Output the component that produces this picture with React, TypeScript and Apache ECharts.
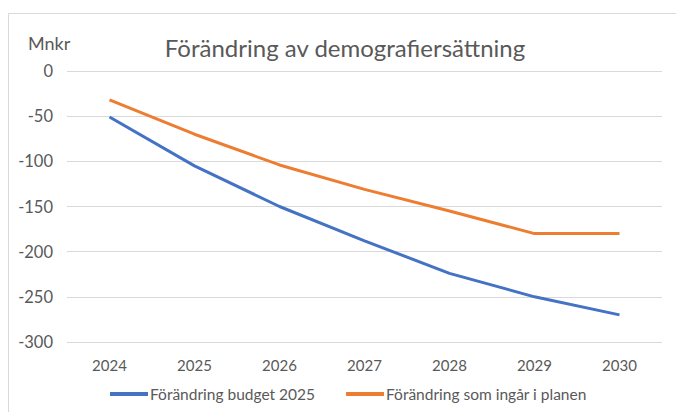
import React, { useEffect, useRef } from "react";
import * as echarts from "echarts";

const categories = ["2024", "2025", "2026", "2027", "2028", "2029", "2030"];
const budget2025 = [-51, -105, -150, -188, -224, -250, -270];
const iPlanen = [-32, -70, -104, -131, -155, -180, -180];
const seriesNames = ["Förändring budget 2025", "Förändring som ingår i planen"];
const titleText = "Förändring av demografiersättning";
const unitText = "Mnkr";

const FONT = "Lato, 'Open Sans', sans-serif";

export default function App() {
  const ref = useRef<HTMLDivElement>(null);
  useEffect(() => {
    if (!ref.current) return;
    const chart = echarts.init(ref.current, undefined, { renderer: "svg" });
    chart.setOption({
      animation: false,
      backgroundColor: "#ffffff",
      textStyle: { fontFamily: FONT },
      graphic: [
        {
          type: "rect",
          shape: { x: 8.5, y: 13.5, width: 700, height: 500 },
          style: { fill: "none", stroke: "#D9D9D9", lineWidth: 1 },
          silent: true,
        },
        {
          type: "text",
          x: 345,
          y: 47,
          style: {
            text: titleText,
            fill: "#595959",
            font: `24px ${FONT}`,
            align: "center",
            verticalAlign: "middle",
          },
        },
        {
          type: "text",
          x: 28,
          y: 43,
          style: {
            text: unitText,
            fill: "#595959",
            font: `18px ${FONT}`,
            align: "left",
            verticalAlign: "middle",
          },
        },
      ],
      grid: { left: 67, right: 14, top: 71, bottom: 70, containLabel: false },
      legend: {
        left: 105,
        top: 381,
        itemWidth: 38,
        itemHeight: 4,
        itemGap: 31,
        icon: "rect",
        textStyle: { color: "#595959", fontSize: 15.5, fontFamily: FONT, padding: [0, 0, 0, -3] },
        data: seriesNames,
      },
      xAxis: {
        type: "category",
        data: categories,
        boundaryGap: true,
        axisLine: { show: false, onZero: false },
        axisTick: { show: false },
        axisLabel: { color: "#595959", fontSize: 15, margin: 15, fontFamily: FONT },
        splitLine: { show: false },
      },
      yAxis: {
        type: "value",
        min: -300,
        max: 0,
        interval: 50,
        axisLine: { show: false },
        axisTick: { show: false },
        axisLabel: { color: "#595959", fontSize: 16.5, margin: 14, fontFamily: FONT },
        splitLine: { lineStyle: { color: "#D9D9D9", width: 1 } },
      },
      series: [
        {
          name: seriesNames[0],
          type: "line",
          data: budget2025,
          symbol: "none",
          lineStyle: { color: "#4472C4", width: 3 },
          itemStyle: { color: "#4472C4" },
        },
        {
          name: seriesNames[1],
          type: "line",
          data: iPlanen,
          symbol: "none",
          lineStyle: { color: "#ED7D31", width: 3 },
          itemStyle: { color: "#ED7D31" },
        },
      ],
    });
    return () => chart.dispose();
  }, []);
  return (
    <div
      ref={ref}
      style={{ position: "fixed", left: 0, top: 0, width: 676, height: 412 }}
    />
  );
}
